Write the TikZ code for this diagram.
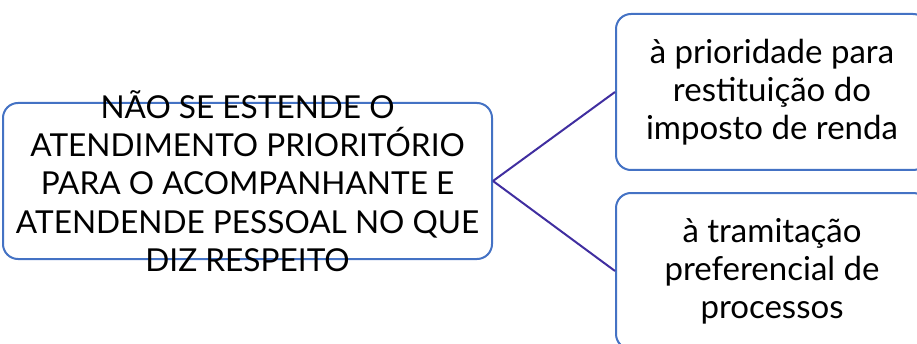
\documentclass[tikz,border=0pt]{standalone}
\usepackage{fontspec}
\setmainfont{Lato}
\definecolor{boxblue}{RGB}{68,114,196}
\definecolor{linkpurple}{RGB}{64,46,160}
\begin{document}
\begin{tikzpicture}[x=1pt,y=1pt,
  boxshape/.style={draw=boxblue,line width=2pt,rounded corners=15pt,fill=white,inner sep=0pt},
  bigtext/.style={align=center,font=\fontsize{31.6}{38.3}\selectfont,inner sep=0pt},
  smalltext/.style={align=center,font=\fontsize{33}{38}\selectfont,inner sep=0pt},
  link/.style={draw=linkpurple,line width=2pt}]
\useasboundingbox (0,0) rectangle (917,343);
\node[boxshape,minimum width=489pt,minimum height=156pt] (L) at (247.5,162) {};
\node[boxshape,minimum width=312pt,minimum height=156pt] (TR) at (772,251) {};
\node[boxshape,minimum width=312pt,minimum height=156pt] (BR) at (772,72) {};
\draw[link] (L.east) -- (TR.west);
\draw[link] (L.east) -- (BR.west);
\node[bigtext] (Lt) at (247.5,162) {NÃO SE ESTENDE O\\ATENDIMENTO PRIORITÓRIO\\PARA O ACOMPANHANTE E\\ATENDENDE PESSOAL NO QUE\\DIZ RESPEITO};
\node[smalltext] (TRt) at (772,251) {à prioridade para\\restituição do\\imposto de renda};
\node[smalltext] (BRt) at (772,72) {à tramitação\\preferencial de\\processos};
\end{tikzpicture}
\end{document}
